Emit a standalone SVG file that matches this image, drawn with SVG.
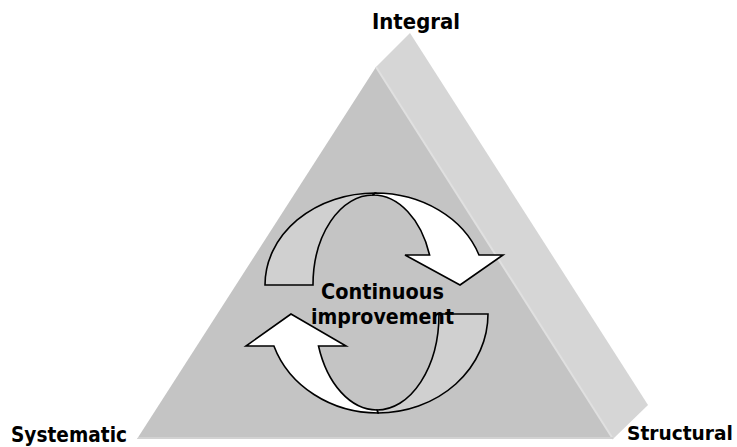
<svg xmlns="http://www.w3.org/2000/svg" width="737" height="447" viewBox="0 0 737 447">
  <style>
    .label { font-family: "DejaVu Sans", Verdana, sans-serif; font-weight: bold; font-size: 20.5px; fill: #000; }
    .band-front { fill: #ffffff; stroke: #000; stroke-width: 1.6; stroke-linejoin: miter; }
    .band-back { fill: #d0d0d0; stroke: #000; stroke-width: 1.6; stroke-linejoin: miter; }
  </style>
  <rect width="737" height="447" fill="#ffffff"/>

  <!-- pyramid: side face, front face and lit edges -->
  <g id="pyramid">
    <polygon points="376,67 410,33 648,405 613,439" fill="#d6d6d6"/>
    <polygon points="137,439 376,67 613,439" fill="#c4c4c4"/>
    <line x1="376" y1="67" x2="613" y2="439" stroke="#e0e0e0" stroke-width="2"/>
    <line x1="138" y1="438" x2="613" y2="438" stroke="#d2d2d2" stroke-width="2"/>
  </g>

  <!-- curved arrow over the top, pointing down on the right -->
  <g id="arrow-top">
    <path class="band-back" d="M265,285 A110,92 0 0 1 375,193 L373,195 A60,90 0 0 0 313,285 Z"/>
    <path class="band-front" d="M460,285 L503,255 L479,255 A110,92 0 0 0 375,193 L373,195 A60,90 0 0 1 429.6,255 L405,255 Z"/>
  </g>

  <!-- curved arrow along the bottom, pointing up on the left -->
  <g id="arrow-bottom">
    <path class="band-back" d="M488,314 A110,99 0 0 1 378,413 L377,410 A62,96 0 0 0 439,314 Z"/>
    <path class="band-front" d="M291,314 L246,346 L273.9,346 A110,99 0 0 0 378,413 L377,410 A62,96 0 0 1 318.5,346 L346,346 Z"/>
  </g>

  <g id="label-integral">
    <text class="label" x="372" y="29" textLength="88" lengthAdjust="spacingAndGlyphs">Integral</text>
  </g>
  <g id="label-systematic">
    <text class="label" x="11" y="442" textLength="116" lengthAdjust="spacingAndGlyphs">Systematic</text>
  </g>
  <g id="label-structural">
    <text class="label" x="627" y="440" style="font-size:18.6px">Structural</text>
  </g>
  <g id="label-center">
    <text class="label" x="321" y="299" textLength="123" lengthAdjust="spacingAndGlyphs">Continuous</text>
    <text class="label" x="311" y="324" textLength="143" lengthAdjust="spacingAndGlyphs">improvement</text>
  </g>
</svg>
